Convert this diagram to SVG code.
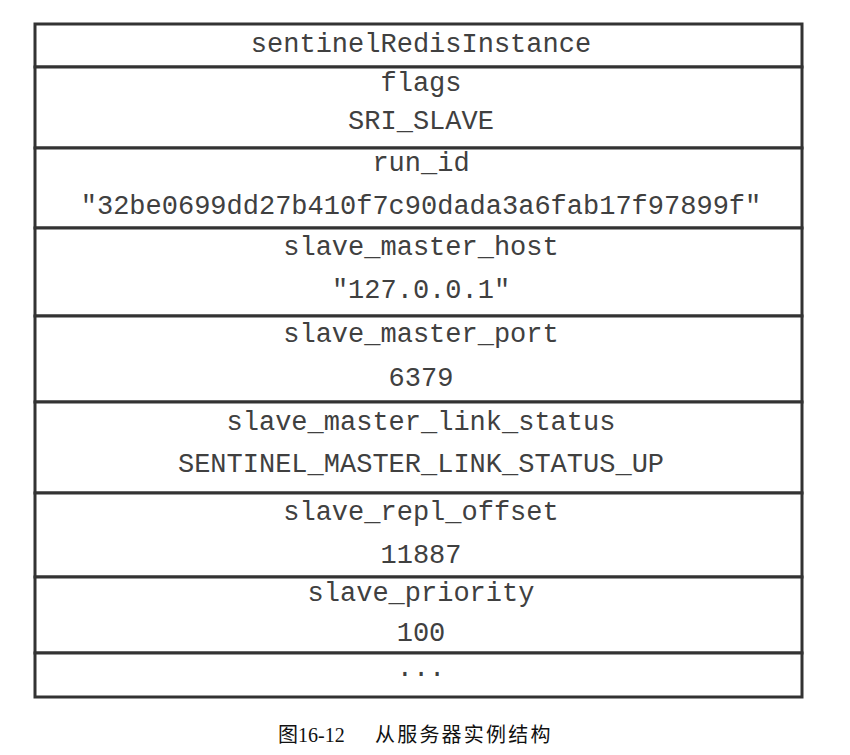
<svg xmlns="http://www.w3.org/2000/svg" width="850" height="755" viewBox="0 0 850 755">
<style>
.cell{fill:#fff;stroke:#333;stroke-width:3}
.t{font-family:"Liberation Mono","Courier New",monospace;font-size:27px;fill:#404040;text-anchor:middle}
.cap{font-family:"Liberation Serif","Noto Sans CJK SC",serif;font-size:20px;fill:#111}
</style>
<rect width="850" height="755" fill="#fff"/>
<g id="row-title"><rect class="cell" x="35" y="24" width="767" height="43"/><text class="t" x="421" y="52">sentinelRedisInstance</text></g>
<g id="row-flags"><rect class="cell" x="35" y="67" width="767" height="81"/><text class="t" x="421" y="91">flags</text><text class="t" x="421" y="129">SRI_SLAVE</text></g>
<g id="row-runid"><rect class="cell" x="35" y="148" width="767" height="80"/><text class="t" x="421" y="171">run_id</text><text class="t" x="421" y="214">"32be0699dd27b410f7c90dada3a6fab17f97899f"</text></g>
<g id="row-host"><rect class="cell" x="35" y="228" width="767" height="88"/><text class="t" x="421" y="255">slave_master_host</text><text class="t" x="421" y="298">"127.0.0.1"</text></g>
<g id="row-port"><rect class="cell" x="35" y="316" width="767" height="86"/><text class="t" x="421" y="342">slave_master_port</text><text class="t" x="421" y="386">6379</text></g>
<g id="row-link"><rect class="cell" x="35" y="402" width="767" height="91"/><text class="t" x="421" y="430">slave_master_link_status</text><text class="t" x="421" y="472">SENTINEL_MASTER_LINK_STATUS_UP</text></g>
<g id="row-offset"><rect class="cell" x="35" y="493" width="767" height="84"/><text class="t" x="421" y="520">slave_repl_offset</text><text class="t" x="421" y="563">11887</text></g>
<g id="row-priority"><rect class="cell" x="35" y="577" width="767" height="76"/><text class="t" x="421" y="601">slave_priority</text><text class="t" x="421" y="641">100</text></g>
<g id="row-more"><rect class="cell" x="35" y="653" width="767" height="44"/><text class="t" x="421" y="676">...</text></g>
<g id="connectors"></g>
<text class="cap" x="278" y="742">图16-12<tspan x="375" letter-spacing="2.2">从服务器实例结构</tspan></text>
</svg>
